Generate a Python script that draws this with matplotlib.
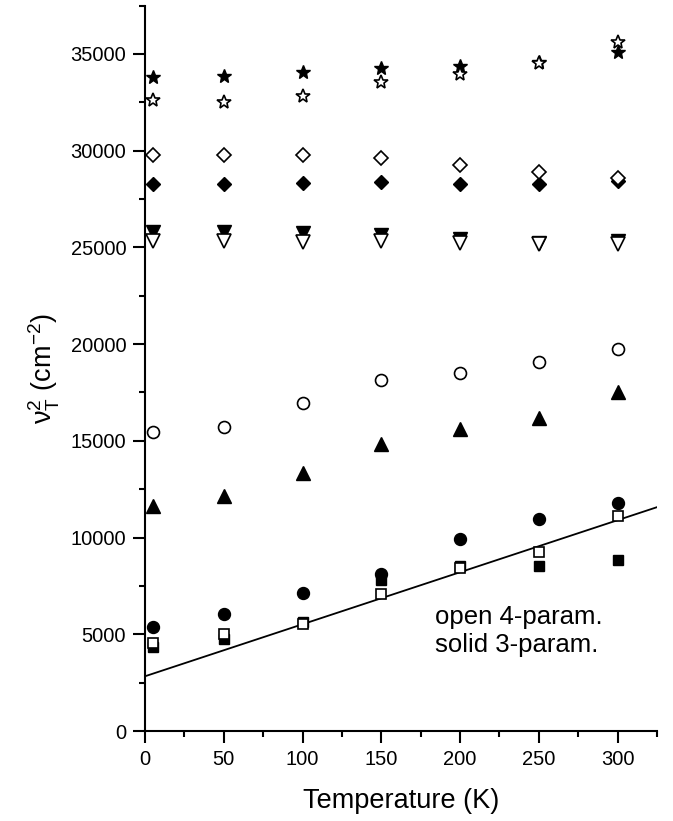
import numpy as np
import matplotlib
matplotlib.use("Agg")
import matplotlib.pyplot as plt

plt.rcParams['font.family'] = ['Liberation Sans', 'DejaVu Sans']
plt.rcParams['mathtext.fontset'] = 'custom'
plt.rcParams['mathtext.rm'] = 'Liberation Sans'
plt.rcParams['mathtext.it'] = 'Liberation Sans:italic'

temps = [5, 50, 100, 150, 200, 250, 300]

# solid = 3-param fit, open = 4-param fit
star_solid = [33800, 33850, 34050, 34250, 34350, 34600, 35100]
star_open = [32600, 32500, 32800, 33550, 33950, 34550, 35600]
diam_open = [29750, 29750, 29750, 29600, 29250, 28900, 28600]
diam_solid = [28250, 28250, 28300, 28400, 28250, 28250, 28450]
tdown_solid = [25800, 25800, 25750, 25650, 25450, 25250, 25350]
tdown_open = [25350, 25350, 25300, 25350, 25250, 25150, 25150]
circ_open = [15450, 15700, 16950, 18150, 18500, 19050, 19750]
tup_solid = [11650, 12150, 13350, 14850, 15600, 16200, 17500]
circ_solid = [5400, 6050, 7150, 8100, 9950, 10950, 11800]
sq_open = [4550, 5000, 5550, 7100, 8450, 9250, 11100]
sq_solid = [4350, 4750, 5650, 7800, 8550, 8550, 8850]

# linear fit drawn across the whole axis
fit_T = [0, 325]
fit_v = [2830, 11570]

fig = plt.figure(figsize=(6.73, 8.21), dpi=100)
ax = fig.add_axes([0.2155, 0.1096, 0.7607, 0.8837])

ax.plot(fit_T, fit_v, color='black', lw=1.3, zorder=1)

solid = [
    (star_solid, '*', 10.5),
    (diam_solid, 'D', 7.4),
    (tdown_solid, 'v', 9.4),
    (tup_solid, '^', 9.4),
    (circ_solid, 'o', 8.6),
    (sq_solid, 's', 7.2),
]
for vals, m, ms in solid:
    ax.plot(temps, vals, ls='none', marker=m, ms=ms, mfc='black', mec='black',
            zorder=2)

hollow = [
    (star_open, '*', 10.5),
    (diam_open, 'D', 7.4),
    (tdown_open, 'v', 9.4),
    (circ_open, 'o', 8.6),
    (sq_open, 's', 7.2),
]
for vals, m, ms in hollow:
    ax.plot(temps, vals, ls='none', marker=m, ms=ms, mfc='white', mec='black',
            mew=1.2, zorder=3)

ax.text(184, 4072, 'open 4-param.\nsolid 3-param.', fontsize=18.5,
        va='baseline', ha='left', linespacing=1.2)

ax.set_xlim(0, 325)
ax.set_ylim(0, 37500)
ax.set_xticks(np.arange(0, 301, 50))
ax.set_xticks(np.arange(25, 326, 50), minor=True)
ax.set_yticks(np.arange(0, 35001, 5000))
ax.set_yticks(np.arange(2500, 37501, 5000), minor=True)

for s in ['top', 'right']:
    ax.spines[s].set_visible(False)
for s in ['left', 'bottom']:
    ax.spines[s].set_linewidth(1.5)

ax.tick_params(which='major', length=8.6, width=1.5, labelsize=14.5, pad=5)
ax.tick_params(which='minor', length=4.3, width=1.5)

ax.set_xlabel('Temperature (K)', fontsize=19.5, labelpad=14)
ax.set_ylabel(r'$\mathrm{ν^{2}_{T}}$ (cm$^{\mathrm{-2}}$)', fontsize=19.5, labelpad=6)

fig.savefig('out.png', dpi=100)
